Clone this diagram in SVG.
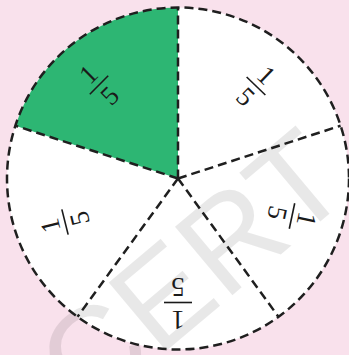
<svg xmlns="http://www.w3.org/2000/svg" width="349" height="355" viewBox="0 0 349 355">
  <style>
    .dash { fill: none; stroke: #1f1f1f; stroke-width: 2.5; stroke-dasharray: 9 5; }
    .num { font-family: "Liberation Serif", "Times New Roman", serif; font-size: 27px; fill: #1a1a1a; text-anchor: middle; }
    .bar { stroke: #1a1a1a; stroke-width: 1.6; }
    .wm { font-family: "Liberation Sans", Arial, sans-serif; font-size: 130px; fill: #000; fill-opacity: 0.09; }
  </style>
  <rect x="0" y="0" width="349" height="355" fill="#f9e1ec"/>
  <g id="pie">
    <circle id="disc" cx="178" cy="178.5" r="171" fill="#ffffff"/>
    <path id="sector-green" d="M178,178.5 L178,7.5 A171,171 0 0,0 15.4,125.7 Z" fill="#2db673"/>
  </g>
  <text class="wm" x="86" y="418" transform="rotate(-40 86 418)">CERT</text>
  <g id="connectors">
    <circle class="dash" cx="178" cy="178.5" r="171" stroke-dasharray="10 6"/>
    <line class="dash" x1="178" y1="178.5" x2="178" y2="7.5"/>
    <line class="dash" x1="178" y1="178.5" x2="15.4" y2="125.7"/>
    <line class="dash" x1="178" y1="178.5" x2="340.6" y2="125.7"/>
    <line class="dash" x1="178" y1="178.5" x2="278.5" y2="316.8"/>
    <line class="dash" x1="178" y1="178.5" x2="77.5" y2="316.8"/>
  </g>
  <g id="label-green" transform="translate(99 85) rotate(-45)">
    <line class="bar" x1="-13" y1="0" x2="13" y2="0"/>
    <text class="num" x="0" y="-6">1</text>
    <text class="num" x="0" y="24">5</text>
  </g>
  <g id="label-topright" transform="translate(256 86) rotate(44)">
    <line class="bar" x1="-13" y1="0" x2="13" y2="0"/>
    <text class="num" x="0" y="-6">1</text>
    <text class="num" x="0" y="24">5</text>
  </g>
  <g id="label-right" transform="translate(292 216) rotate(102)">
    <line class="bar" x1="-13" y1="0" x2="13" y2="0"/>
    <text class="num" x="0" y="-6">1</text>
    <text class="num" x="0" y="24">5</text>
  </g>
  <g id="label-bottom" transform="translate(178 302.5) rotate(180)">
    <line class="bar" x1="-14" y1="0" x2="14" y2="0"/>
    <text class="num" x="0" y="-8">1</text>
    <text class="num" x="0" y="25">5</text>
  </g>
  <g id="label-left" transform="translate(65 222) rotate(-104)">
    <line class="bar" x1="-13" y1="0" x2="13" y2="0"/>
    <text class="num" x="0" y="-6">1</text>
    <text class="num" x="0" y="24">5</text>
  </g>
</svg>
